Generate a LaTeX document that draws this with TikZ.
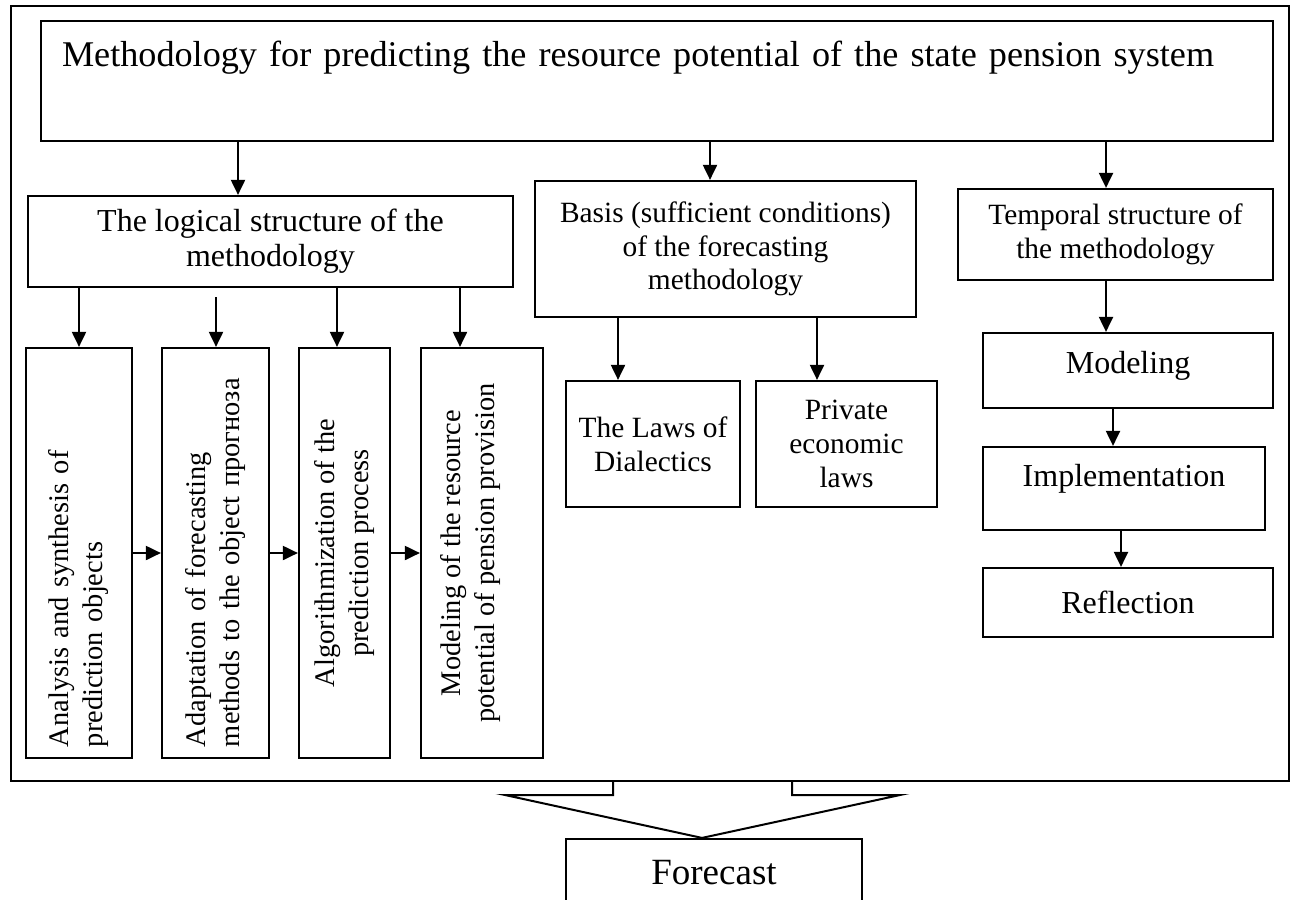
\documentclass[tikz,border=0pt]{standalone}
\usepackage{fontspec}
\setmainfont{Liberation Serif}
\usetikzlibrary{arrows.meta}
\tikzset{
  box/.style={draw, line width=1.1pt, inner sep=0pt, align=center,
    font=\fontsize{16}{17.5}\selectfont},
  smallbox/.style={box, font=\fontsize{14.7}{16.8}\selectfont},
  vbox/.style={box, rotate=90, minimum width=205pt,
    font=\fontsize{14.2}{17}\selectfont},
  arr/.style={line width=1pt, -{Triangle[length=7.5pt,width=7pt]}}
}
\begin{document}
\begin{tikzpicture}[x=0.5pt,y=-0.5pt]
    \useasboundingbox (0,0) rectangle (1293,899);
    \draw[line width=1.1pt] (11,6) rectangle (1289,781);
    % Title
    \node[box, minimum width=616pt, minimum height=60pt, align=left,
        text width=595pt, text depth=27pt, font=\fontsize{18.1}{20}\selectfont]
        (top) at (657,81)
        {Methodology for predicting the resource potential of the state pension system};
    % Three branches
    \node[box, minimum width=242.5pt, minimum height=45.5pt]
        (logic) at (270.5,241.5) {The logical structure of the\\methodology};
    \node[smallbox, minimum width=190.5pt, minimum height=68pt]
        (basis) at (725.5,249) {Basis (sufficient conditions)\\of the forecasting\\methodology};
    \node[smallbox, minimum width=157.5pt, minimum height=45.5pt]
        (temporal) at (1115.5,234.5) {Temporal structure of\\the methodology};
    \draw[arr] (top.south -| 238,0) -- (logic.north -| 238,0);
    \draw[arr] (top.south -| 710,0) -- (basis.north -| 710,0);
    \draw[arr] (top.south -| 1106,0) -- (temporal.north -| 1106,0);
    % Logical structure
    \node[vbox, minimum height=53pt, align=left, inner xsep=5.5pt, text width=194pt]
        (ana) at (79,553) {Analysis and synthesis of\\prediction objects};
    \node[vbox, minimum height=53.5pt, align=left, inner xsep=5.5pt, text width=194pt]
        (adapt) at (215.5,553) {Adaptation of forecasting\\methods to the object прогноза};
    \node[vbox, minimum height=45.5pt]
        (algo) at (344.5,553) {Algorithmization of the\\prediction process};
    \node[vbox, minimum height=61pt, text depth=15pt]
        (model) at (482,553) {Modeling of the resource\\potential of pension provision};
    \draw[arr] (logic.south -| 79,0) -- (ana.east);
    \draw[arr, shorten <=4.5pt] (logic.south -| 216,0) -- (adapt.east -| 216,0);
    \draw[arr] (logic.south -| 337,0) -- (algo.east -| 337,0);
    \draw[arr] (logic.south -| 460,0) -- (model.east -| 460,0);
    \draw[arr] (ana.south) -- (adapt.north);
    \draw[arr] (adapt.south) -- (algo.north);
    \draw[arr] (algo.south) -- (model.north);
    % Basis
    \node[smallbox, minimum width=87pt, minimum height=63pt]
        (laws) at (653,444) {The Laws of\\Dialectics};
    \node[smallbox, minimum width=90.5pt, minimum height=63pt]
        (private) at (846.5,444) {Private\\economic\\laws};
    \draw[arr] (basis.south -| 618,0) -- (laws.north -| 618,0);
    \draw[arr] (basis.south -| 817,0) -- (private.north -| 817,0);
    % Temporal structure
    \node[box, minimum width=145pt, minimum height=37.5pt, text depth=8.5pt]
        (modeling) at (1128,370.5) {Modeling};
    \node[box, minimum width=141pt, minimum height=41.5pt, text depth=13.5pt]
        (impl) at (1124,488.5) {Implementation};
    \node[box, minimum width=145pt, minimum height=34.5pt]
        (refl) at (1128,602.5) {Reflection};
    \draw[arr] (temporal.south -| 1106,0) -- (modeling.north -| 1106,0);
    \draw[arr] (modeling.south -| 1113,0) -- (impl.north -| 1113,0);
    \draw[arr] (impl.south -| 1121,0) -- (refl.north -| 1121,0);
    % Forecast
    \node[box, minimum width=148pt, minimum height=33.5pt,
        font=\fontsize{18.5}{20}\selectfont] (fcast) at (714,872.5) {Forecast};
    \draw[line width=1pt] (613,781) -- (613,795) -- (505,795)
        -- ([xshift=-6pt]fcast.north) -- (900,795) -- (792,795) -- (792,781);
\end{tikzpicture}
\end{document}
